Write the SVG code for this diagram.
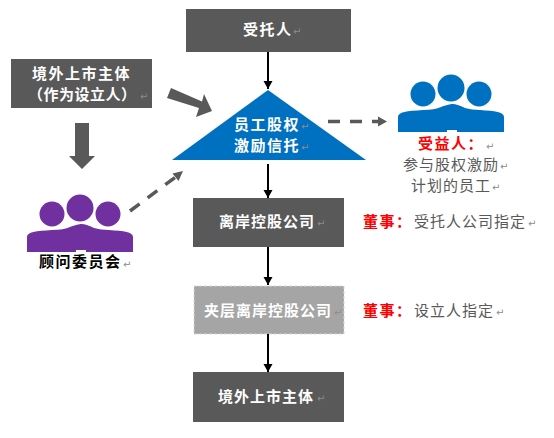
<svg xmlns="http://www.w3.org/2000/svg" width="554" height="438" viewBox="0 0 554 438">
<style>
text{font-family:"Noto Sans CJK SC","Liberation Serif",serif;font-size:15px;letter-spacing:1.5px}
.w{fill:#fff;font-weight:700}
.n{letter-spacing:1px}
.t{letter-spacing:.5px}
.k{fill:#000;font-weight:700}
.g{fill:#595959;letter-spacing:1px}
.r{fill:#f00;font-weight:700}
.p{fill:#8c8c8c;font-size:10px;font-family:"DejaVu Sans",sans-serif;letter-spacing:0;font-weight:400}
.box{fill:#595959}
.ln{fill:none;stroke:#000;stroke-width:2}
.ds{fill:none;stroke:#595959;stroke-width:3.5;stroke-dasharray:12 10}
</style>
<defs>
<marker id="a" markerUnits="userSpaceOnUse" markerWidth="10" markerHeight="10" refX="8" refY="4.500" orient="auto"><path d="M0 0L8 4.500L0 9z" fill="#000"/></marker>
<g id="people">
<circle cx="0" cy="-21" r="13.500"/><circle cx="-28" cy="-15" r="12.500"/><circle cx="28" cy="-15" r="12.500"/>
<path d="M-53 23V8C-53 3 -44 2 -28 1C-20 1 -14 0 -10 -2C-5 -4 0 -5 1 -5C5 -5 10 -3 14 -1C18 0 24 1 29 1C44 2 53 3 53 8V23H6V21H-4V23Z"/>
</g>
</defs>
<g id="connectors">
<path class="ln" d="M268 52V89" marker-end="url(#a)"/>
<path class="ln" d="M268 164V198" marker-end="url(#a)"/>
<path class="ln" d="M268 247V285" marker-end="url(#a)"/>
<path class="ln" d="M268 334V372" marker-end="url(#a)"/>
<path class="ds" d="M328 121.500H381"/>
<path d="M387 121.500L378 116.500V126.500Z" fill="#595959"/>
<path class="ds" d="M130 211L177 176"/>
<path d="M183 171L172.500 173.500L178.500 181Z" fill="#595959"/>
<path d="M171 88L202 101.500L204 94L212 111L196 117L199 108L167 98Z" fill="#595959"/>
<path d="M75 123H89V156H95L82 169L69 156H75Z" fill="#595959"/>
</g>
<g id="trustee"><rect class="box" x="186" y="9" width="165" height="43"/><text class="w" x="243" y="35">受托人</text><text class="p" x="293" y="35">↵</text></g>
<g id="founder"><rect class="box" x="11" y="59" width="141" height="49"/><text class="w" x="32" y="79">境外上市主体</text><text class="w t" x="28" y="100">（作为设立人）</text><text class="p" x="140" y="100">↵</text></g>
<g id="trust"><path d="M268 90L366 160H172Z" fill="#0070c0"/><text class="w" x="234" y="130">员工股权</text><text class="w" x="234" y="151">激励信托</text><text class="p" x="301" y="130">↵</text><text class="p" x="301" y="151">↵</text></g>
<g id="beneficiary"><use href="#people" x="451" y="109" fill="#0070c0"/><text class="r" x="418" y="149">受益人：</text><text class="p" x="486" y="150">↵</text><text class="g" x="403" y="170">参与股权激励</text><text class="p" x="500" y="170">↵</text><text class="g" x="411" y="191">计划的员工</text><text class="p" x="492" y="191">↵</text></g>
<g id="committee"><use href="#people" x="80" y="229" fill="#7030a0"/><text class="k" x="39" y="267">顾问委员会</text><text class="p" x="123" y="268">↵</text></g>
<g id="offshore"><rect class="box" x="193" y="198" width="151" height="49"/><text class="w n" x="219" y="227">离岸控股公司</text><text class="p" x="317" y="227">↵</text></g>
<g id="intermediate"><rect x="194" y="286" width="150" height="48" fill="#a5a5a5" stroke="#d9d9d9" stroke-dasharray="3 2"/><text class="w n" x="204" y="316">夹层离岸控股公司</text><text class="p" x="334" y="316">↵</text></g>
<g id="listed"><rect class="box" x="193" y="372" width="151" height="50"/><text class="w n" x="218" y="402">境外上市主体</text><text class="p" x="317" y="402">↵</text></g>
<text class="r" x="363" y="227">董事：</text><text class="g" x="414" y="227">受托人公司指定</text><text class="p" x="528" y="227">↵</text>
<text class="r" x="363" y="316">董事：</text><text class="g" x="414" y="316">设立人指定</text><text class="p" x="496" y="316">↵</text>
</svg>
